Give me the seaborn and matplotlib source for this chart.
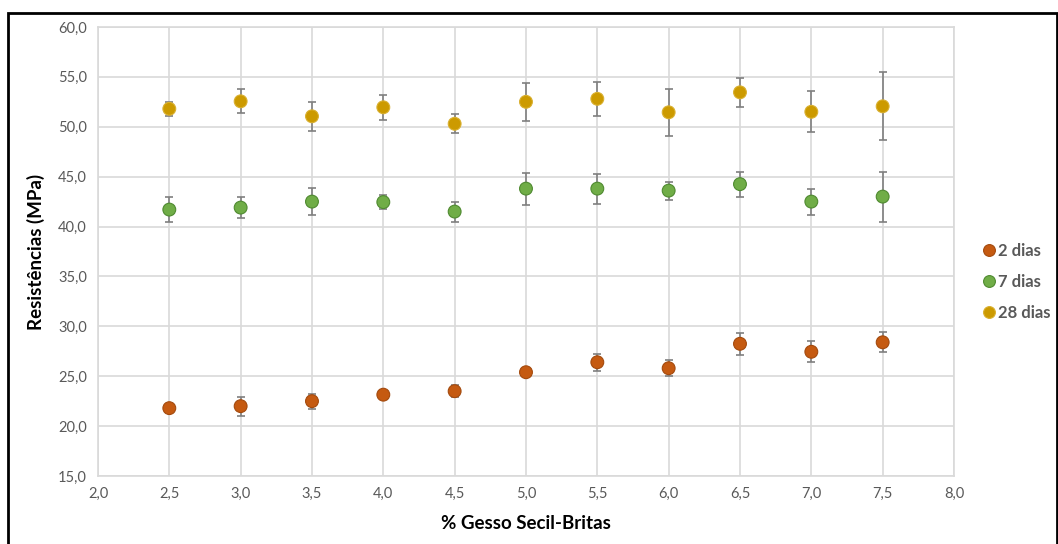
import matplotlib
matplotlib.use("Agg")
import matplotlib.pyplot as plt
from matplotlib.ticker import FuncFormatter, MultipleLocator
from matplotlib.lines import Line2D
from matplotlib.patches import Rectangle
import pandas as pd
import seaborn as sns

# % gypsum content
gesso = [2.5, 3.0, 3.5, 4.0, 4.5, 5.0, 5.5, 6.0, 6.5, 7.0, 7.5]

# mean strength (MPa) per curing age
res_2d = [21.8, 22.0, 22.5, 23.15, 23.5, 25.4, 26.4, 25.8, 28.25, 27.45, 28.4]
res_7d = [41.7, 41.9, 42.5, 42.45, 41.5, 43.8, 43.8, 43.6, 44.25, 42.5, 43.0]
res_28d = [51.8, 52.55, 51.05, 51.95, 50.3, 52.5, 52.8, 51.45, 53.45, 51.5, 52.05]

# standard deviations
err_2d = [0.2, 0.95, 0.75, 0.25, 0.6, 0.15, 0.85, 0.8, 1.1, 1.05, 1.0]
err_7d = [1.25, 1.07, 1.35, 0.7, 1.0, 1.6, 1.5, 0.9, 1.25, 1.3, 2.5]
err_28d = [0.7, 1.2, 1.45, 1.25, 0.95, 1.9, 1.7, 2.35, 1.45, 2.05, 3.4]

series = ["2 dias", "7 dias", "28 dias"]
colors = {"2 dias": "#C55A11", "7 dias": "#70AD47", "28 dias": "#CC9A00"}
edges = {"2 dias": "#A34A0E", "7 dias": "#4F8A30", "28 dias": "#D9B030"}

frames = []
for name, vals, errs in zip(series, [res_2d, res_7d, res_28d], [err_2d, err_7d, err_28d]):
    frames.append(pd.DataFrame({"gesso": gesso, "res": vals, "err": errs, "idade": name}))
df = pd.concat(frames, ignore_index=True)

sns.set_theme(style="white")
plt.rcParams["font.family"] = ["Lato", "DejaVu Sans"]

fig = plt.figure(figsize=(10.58, 5.44), dpi=100)
ax = fig.add_axes([0.0926, 0.125, 0.8091, 0.8254])

# error bars first, markers on top
for name in series:
    sub = df[df["idade"] == name]
    ax.errorbar(sub["gesso"], sub["res"], yerr=sub["err"], fmt="none",
                ecolor="#7F7F7F", elinewidth=1.2, capsize=3, capthick=1.2, zorder=2)

sns.scatterplot(data=df, x="gesso", y="res", hue="idade", hue_order=series,
                palette=colors, s=85, linewidth=0.8, ax=ax, legend=False, zorder=3)
pts = ax.collections[-1]
pts.set_edgecolors([edges[n] for n in df["idade"]])

ax.set_xlim(2.0, 8.0)
ax.set_ylim(15.0, 60.0)
ax.xaxis.set_major_locator(MultipleLocator(0.5))
ax.yaxis.set_major_locator(MultipleLocator(5.0))
fmt = FuncFormatter(lambda v, p: f"{v:.1f}".replace(".", ","))
ax.xaxis.set_major_formatter(fmt)
ax.yaxis.set_major_formatter(fmt)
ax.grid(True, color="#D9D9D9", linewidth=1.2)
ax.set_axisbelow(True)
for sp in ax.spines.values():
    sp.set_color("#D9D9D9")
    sp.set_linewidth(1.2)
ax.tick_params(axis="both", length=0, labelsize=10.5, labelcolor="#595959", pad=8)

ax.set_xlabel("% Gesso Secil-Britas", fontsize=13.5, fontweight="bold", color="#000000", labelpad=10)
ax.set_ylabel("Resistências (MPa)", fontsize=13.5, fontweight="bold", color="#000000", labelpad=9)

handles = [Line2D([], [], linestyle="none", marker="o", markersize=8.5,
                  markerfacecolor=colors[n], markeredgecolor=edges[n], markeredgewidth=0.8)
           for n in series]
leg = fig.legend(handles, series, loc="center left", bbox_to_anchor=(0.930, 0.482),
                 frameon=False, fontsize=12, handlelength=0.6, handletextpad=0.25,
                 labelspacing=0.9, borderaxespad=0, borderpad=0)
for t in leg.get_texts():
    t.set_color("#595959")
    t.set_fontweight("bold")

# outer frame
fig.patches.append(Rectangle((8 / 1058, -0.05), 1048.5 / 1058, 1.05 - 13 / 544,
                             transform=fig.transFigure, fill=False,
                             edgecolor="#000000", linewidth=2.0, zorder=10))

fig.savefig("out.png", dpi=100)
